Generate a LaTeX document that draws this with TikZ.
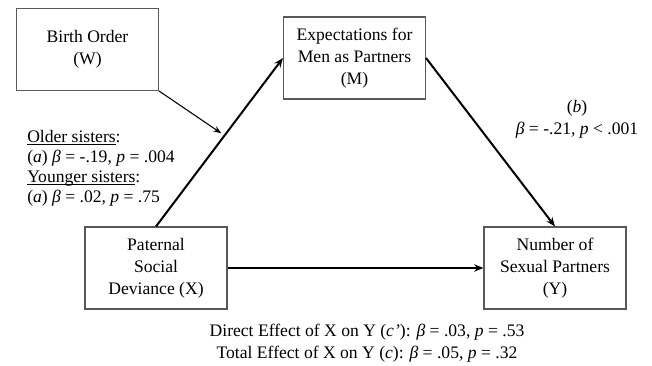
\documentclass[tikz,border=0pt]{standalone}
\usepackage{fontspec}
\setmainfont{Liberation Serif}
\usepackage{tikz}
\usetikzlibrary{arrows.meta,calc}
\newcommand{\uln}[1]{\setbox0\hbox{#1}\rlap{\rule[-1.6pt]{\wd0}{0.5pt}}\box0}

\begin{document}
\begin{tikzpicture}[x=0.75pt,y=-0.75pt,
  font=\fontsize{13.2}{16.4}\selectfont,
  varbox/.style={draw=black!65,line width=0.8pt,minimum width=106.5pt,minimum height=61.5pt,align=center,inner sep=2pt},
  path/.style={line width=1.5pt,-{Stealth[length=7pt,width=5.5pt]}},
  modpath/.style={line width=0.8pt,-{Stealth[length=6pt,width=4.5pt]}}]
\useasboundingbox (0,0) rectangle (652,366);
\node[varbox] (W) at (87.5,49.5) {Birth Order\\(W)};
\node[varbox] (M) at (354.5,58) {Expectations for\\Men as Partners\\(M)};
\node[varbox] (X) at (156,268) {Paternal\\Social\\Deviance (X)};
\node[varbox] (Y) at (555,268) {Number of\\Sexual Partners\\(Y)};
\draw[path] (X.north) -- (M.west);
\draw[path] (M.east) -- (Y.north);
\draw[path] (X.east) -- (Y.west);
\coordinate (mod) at ($(X.north)!0.54!(M.west)$);
\draw[modpath,shorten >=3pt] (W.south east) -- (mod);
\node[align=left,anchor=west,inner sep=0pt,font=\fontsize{13.2}{15}\selectfont] (alab) at (27,168)
  {\uln{Older sisters}:\\(\textit{a}) \textit{β} = -.19, \textit{p} = .004\\
   \uln{Younger sisters}:\\(\textit{a}) \textit{β} = .02, \textit{p} = .75};
\node[align=center,inner sep=0pt] (blab) at (577,119) {(\textit{b})\\\textit{β} = -.21, \textit{p} < .001};
\node[align=center,inner sep=0pt] (clab) at (367,343)
  {Direct Effect of X on Y (\textit{c'}): \textit{β} = .03, \textit{p} = .53\\
   Total Effect of X on Y (\textit{c}): \textit{β} = .05, \textit{p} = .32};
\end{tikzpicture}
\end{document}
